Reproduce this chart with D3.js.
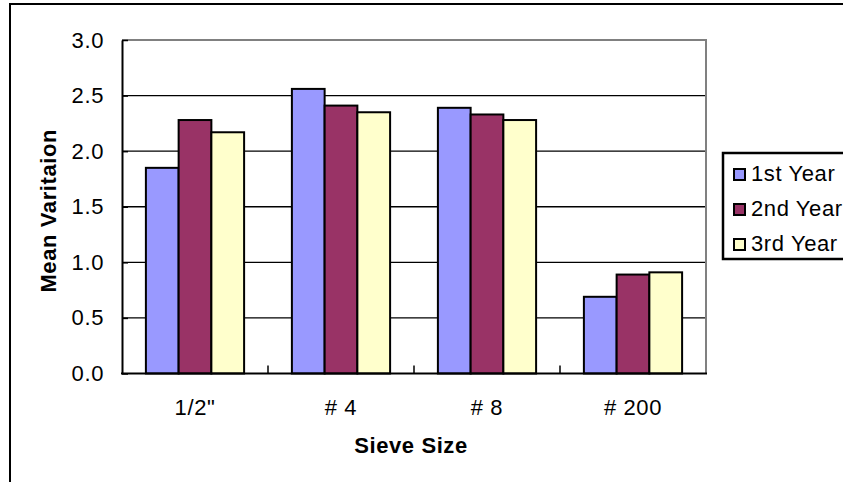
<!DOCTYPE html>
<html>
<head>
<meta charset="utf-8">
<script src="https://cdn.jsdelivr.net/npm/d3@7"></script>
<style>
  html, body { margin: 0; padding: 0; background: #fff; }
  svg { display: block; font-family: "Liberation Sans", Arial, sans-serif; }
</style>
</head>
<body>
<svg id="chart" width="843" height="482"></svg>
<script>
// Sieve sizes and mean variation per year
const categories = ["1/2\"", "# 4", "# 8", "# 200"];
const seriesNames = ["1st Year", "2nd Year", "3rd Year"];
const firstYear  = [1.85, 2.56, 2.39, 0.69];
const secondYear = [2.28, 2.41, 2.33, 0.89];
const thirdYear  = [2.17, 2.35, 2.28, 0.91];
const yTicks = [0, 0.5, 1.0, 1.5, 2.0, 2.5, 3.0];
const colors = ["#9999FF", "#993366", "#FFFFCC"];

const values = [firstYear, secondYear, thirdYear];
const rows = categories.map((c, i) => ({
  cat: c,
  vals: seriesNames.map((s, j) => ({ series: s, value: values[j][i] }))
}));

const FONT = "Liberation Sans, Arial, sans-serif";
const FS = 22;
const LS = 0.6;

const svg = d3.select("#chart");
const plot = { left: 122, right: 706, top: 40, bottom: 373.5 };

// Outer chart frame (top and left edges visible)
svg.append("path")
  .attr("d", "M10,482 V4 H843")
  .attr("fill", "none").attr("stroke", "#000").attr("stroke-width", 2);

const x0 = d3.scaleBand().domain(categories).range([plot.left, plot.right]).padding(0);
const x1 = d3.scaleBand().domain(seriesNames).range([0, x0.bandwidth()])
  .paddingInner(0).paddingOuter(0.73);
const y = d3.scaleLinear().domain([0, 3]).range([plot.bottom, plot.top]);
const color = d3.scaleOrdinal().domain(seriesNames).range(colors);

// Gridlines
svg.append("g")
  .selectAll("line")
  .data(yTicks.filter(t => t > 0 && t < 3))
  .join("line")
  .attr("x1", plot.left).attr("x2", plot.right)
  .attr("y1", d => y(d)).attr("y2", d => y(d))
  .attr("stroke", "#000").attr("stroke-width", 1.3);

// Plot border: top and right in grey
svg.append("path")
  .attr("d", `M${plot.left},${plot.top} H${plot.right} V${plot.bottom}`)
  .attr("fill", "none").attr("stroke", "#808080").attr("stroke-width", 2);

// Bars
svg.append("g")
  .selectAll("g")
  .data(rows)
  .join("g")
  .attr("transform", d => `translate(${x0(d.cat)},0)`)
  .selectAll("rect")
  .data(d => d.vals)
  .join("rect")
  .attr("x", d => x1(d.series))
  .attr("y", d => y(d.value))
  .attr("width", x1.bandwidth())
  .attr("height", d => y(0) - y(d.value))
  .attr("fill", d => color(d.series))
  .attr("stroke", "#000").attr("stroke-width", 2);

// Y axis
const yAxis = d3.axisLeft(y).tickValues(yTicks).tickFormat(d3.format(".1f"))
  .tickSizeInner(-6).tickSizeOuter(0).tickPadding(18);
const gy = svg.append("g").attr("transform", `translate(${plot.left},0)`).call(yAxis);
gy.select(".domain").attr("stroke", "#000").attr("stroke-width", 2);
gy.selectAll(".tick line").attr("stroke", "#000").attr("stroke-width", 1.5);
gy.selectAll(".tick text")
  .attr("font-size", FS).attr("letter-spacing", LS).attr("fill", "#000")
  .attr("font-family", FONT);

// X axis: ticks at category boundaries, labels at centres
const xAxis = d3.axisBottom(x0).tickSize(0).tickPadding(26);
const gx = svg.append("g").attr("transform", `translate(0,${plot.bottom})`).call(xAxis);
gx.select(".domain").remove();
gx.selectAll(".tick text")
  .attr("font-size", FS).attr("letter-spacing", LS).attr("fill", "#000")
  .attr("font-family", FONT);

svg.append("g")
  .selectAll("line")
  .data(categories.slice(1))
  .join("line")
  .attr("x1", d => x0(d)).attr("x2", d => x0(d))
  .attr("y1", plot.bottom).attr("y2", plot.bottom - 8)
  .attr("stroke", "#000").attr("stroke-width", 1.5);

svg.append("line")
  .attr("x1", plot.left - 1).attr("x2", plot.right + 1)
  .attr("y1", plot.bottom).attr("y2", plot.bottom)
  .attr("stroke", "#000").attr("stroke-width", 2);

// Axis titles
svg.append("text")
  .attr("x", (plot.left + plot.right) / 2 - 3).attr("y", 453)
  .attr("text-anchor", "middle")
  .attr("font-size", FS).attr("font-weight", "bold").attr("letter-spacing", LS)
  .text("Sieve Size");

svg.append("text")
  .attr("transform", `translate(56,${(plot.top + plot.bottom) / 2 + 4}) rotate(-90)`)
  .attr("text-anchor", "middle")
  .attr("font-size", FS).attr("font-weight", "bold").attr("letter-spacing", LS)
  .text("Mean Varitaion");

// Legend
const legend = svg.append("g");
legend.append("rect")
  .attr("x", 723).attr("y", 153).attr("width", 140).attr("height", 106)
  .attr("fill", "#fff").attr("stroke", "#000").attr("stroke-width", 2.5);

const item = legend.selectAll("g.item")
  .data(seriesNames)
  .join("g")
  .attr("class", "item")
  .attr("transform", (d, i) => `translate(0,${181 + i * 35})`);

item.append("rect")
  .attr("x", 734).attr("y", -12).attr("width", 11).attr("height", 11)
  .attr("fill", d => color(d)).attr("stroke", "#000").attr("stroke-width", 2);

item.append("text")
  .attr("x", 751).attr("y", 0)
  .attr("font-size", FS).attr("letter-spacing", LS)
  .text(d => d);
</script>
</body>
</html>
